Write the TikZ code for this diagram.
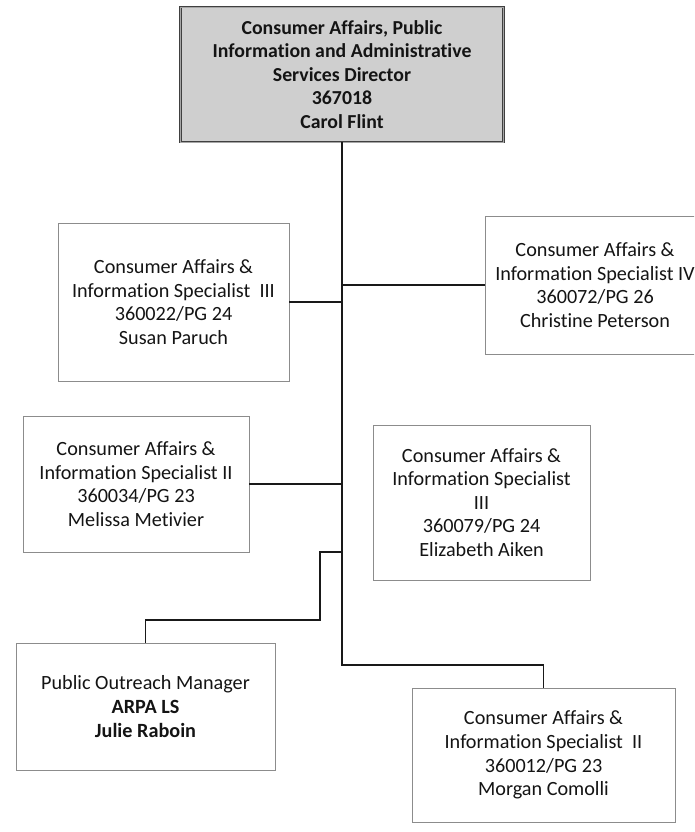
\documentclass[tikz,border=0pt]{standalone}
\usepackage{fontspec}
\setmainfont[Ligatures=NoCommon]{Carlito}
\begin{document}
\begin{tikzpicture}[x=1pt,y=-1pt,
  every node/.style={inner sep=0pt, outer sep=0pt, text=black!92,
    font=\fontsize{20.2}{23.6}\selectfont, align=center},
  posbox/.style={draw=black!45, line width=0.8pt, fill=white},
  headbox/.style={draw=black!75, double=black!35, double distance=0.8pt,
    line width=0.7pt, fill=black!19, font=\bfseries\fontsize{19.8}{23.6}\selectfont},
  link/.style={draw=black!90, line width=1.4pt}]
\useasboundingbox (0,0) rectangle (694,832);
\clip (0,0) rectangle (694,832);
\fill[white] (0,0) rectangle (694,832);

% director
\node[headbox, minimum width=323pt, minimum height=135pt] (top) at (342,74.5)
  {Consumer Affairs, Public\\Information and Administrative\\Services Director\\367018\\Carol Flint};

% staff positions
\node[posbox, minimum width=231pt, minimum height=158pt] (susan) at (173.5,302)
  {Consumer Affairs \&\\Information Specialist~ III\\360022/PG 24\\Susan Paruch};
\node[posbox, minimum width=220pt, minimum height=138pt] (christine) at (595,285)
  {Consumer Affairs \&\\Information Specialist IV\\360072/PG 26\\Christine Peterson};
\node[posbox, minimum width=226pt, minimum height=136pt] (melissa) at (136,484)
  {Consumer Affairs \&\\Information Specialist II\\360034/PG 23\\Melissa Metivier};
\node[posbox, minimum width=217pt, minimum height=155pt] (elizabeth) at (481.5,502.5)
  {Consumer Affairs \&\\Information Specialist\\III\\360079/PG 24\\Elizabeth Aiken};
\node[posbox, minimum width=259pt, minimum height=127pt] (outreach) at (145.5,706.5)
  {Public Outreach Manager\\\textbf{ARPA LS}\\\textbf{Julie Raboin}};
\node[posbox, minimum width=263pt, minimum height=134pt] (morgan) at (543.5,755)
  {Consumer Affairs \&\\Information Specialist~ II\\360012/PG 23\\Morgan Comolli};

% reporting lines
\coordinate (jm) at (342,665);
\coordinate (jo) at (342,552);
\coordinate (ko) at (320,620);
\draw[link] (top.south) -- (jm) -| (morgan.north);
\draw[link] (susan.east) -- (susan.east -| top.south);
\draw[link] (christine.west) -- (christine.west -| top.south);
\draw[link] (melissa.east) -- (melissa.east -| top.south);
\draw[link] (jo) -| (ko) -| (outreach.north);
\end{tikzpicture}
\end{document}
